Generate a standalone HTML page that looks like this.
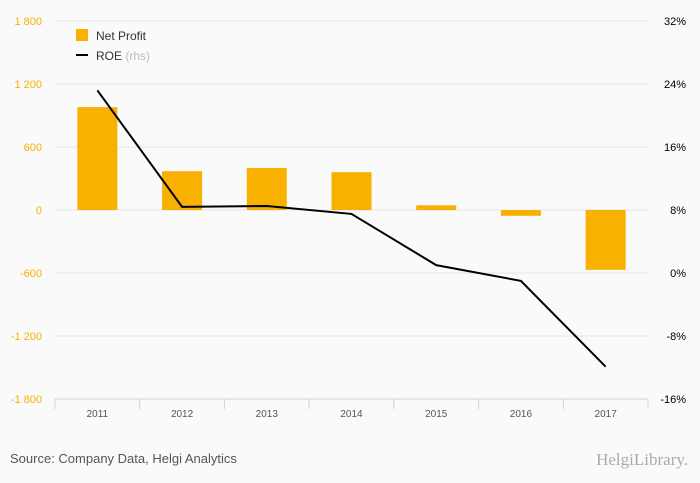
<!DOCTYPE html>
<html><head><meta charset="utf-8"><style>
body{margin:0;background:#fafafa;font-family:"Liberation Sans",sans-serif}
svg{display:block}
</style></head><body>
<svg id="c" width="700" height="483" xmlns="http://www.w3.org/2000/svg">
<rect width="700" height="483" fill="#fafafa"/>
<g id="grid"></g><g id="bars"></g><g id="line"></g><g id="axes"></g>
<g>
<rect x="76" y="29" width="12" height="12" fill="#f8b100"/>
<text x="96" y="40" font-size="12" fill="#333">Net Profit</text>
<line x1="76" y1="55" x2="88" y2="55" stroke="#000" stroke-width="2"/>
<text x="96" y="60" font-size="12" fill="#333">ROE <tspan fill="#bbb">(rhs)</tspan></text>
</g>
<text x="10" y="463" font-size="13" fill="#555">Source: Company Data, Helgi Analytics</text>
<text x="688" y="465" font-size="17" fill="#aaa" text-anchor="end" font-family="Liberation Serif,serif">HelgiLibrary.</text>
</svg>
<script>
const categories=["2011","2012","2013","2014","2015","2016","2017"];
const netProfit=[980,370,400,360,45,-55,-570];
const roe=[23.2,8.4,8.5,7.5,1.0,-1.0,-11.9];
const leftTicks=[1800,1200,600,0,-600,-1200,-1800];
const leftLabels=["1 800","1 200","600","0","-600","-1 200","-1 800"];
const rightTicks=[32,24,16,8,0,-8,-16];
const NS="http://www.w3.org/2000/svg";
const X0=55,X1=648,Y0=21,Y1=399;
const bw=(X1-X0)/categories.length;
const yL=v=>Y0+(1800-v)/3600*(Y1-Y0);
const yR=v=>Y0+(32-v)/48*(Y1-Y0);
const xC=i=>X0+bw*(i+0.5);
function mk(p,t,a){const e=document.createElementNS(NS,t);for(const k in a)e.setAttribute(k,a[k]);document.getElementById(p).appendChild(e);return e;}
leftTicks.forEach((v,i)=>{
 if(i<leftTicks.length-1){const g=mk("grid","line",{x1:X0,x2:X1,y1:yL(v),y2:yL(v),stroke:"#e6e6e6"});
 
 }
 const t=mk("axes","text",{x:42,y:yL(v)+4,"font-size":11,fill:"#f8b100","text-anchor":"end"});t.textContent=leftLabels[i];
 
 
});
rightTicks.forEach(v=>{
 const t=mk("axes","text",{x:686,y:yR(v)+4,"font-size":11,fill:"#000","text-anchor":"end"});t.textContent=v+"%";
 
 
});
const ax=mk("axes","line",{x1:X0,x2:X1,y1:Y1,y2:Y1,stroke:"#c8d4e0"});


for(let i=0;i<=categories.length;i++){const tk=mk("axes","line",{x1:X0+bw*i,x2:X0+bw*i,y1:Y1,y2:Y1+10,stroke:"#c8d4e0"});
 
 }
categories.forEach((c,i)=>{
 const t=mk("axes","text",{x:xC(i),y:417,"font-size":10,fill:"#555","text-anchor":"middle"});t.textContent=c;
 
 
 const v=netProfit[i];const y=Math.min(yL(v),yL(0));
 const b=mk("bars","rect",{x:xC(i)-20,y:y,width:40,height:Math.abs(yL(v)-yL(0)),fill:"#f8b100"});
 
 
});
const pl=mk("line","polyline",{points:roe.map((v,i)=>xC(i)+","+yR(v)).join(" "),fill:"none",stroke:"#000","stroke-width":2});


</script>
</body></html>
